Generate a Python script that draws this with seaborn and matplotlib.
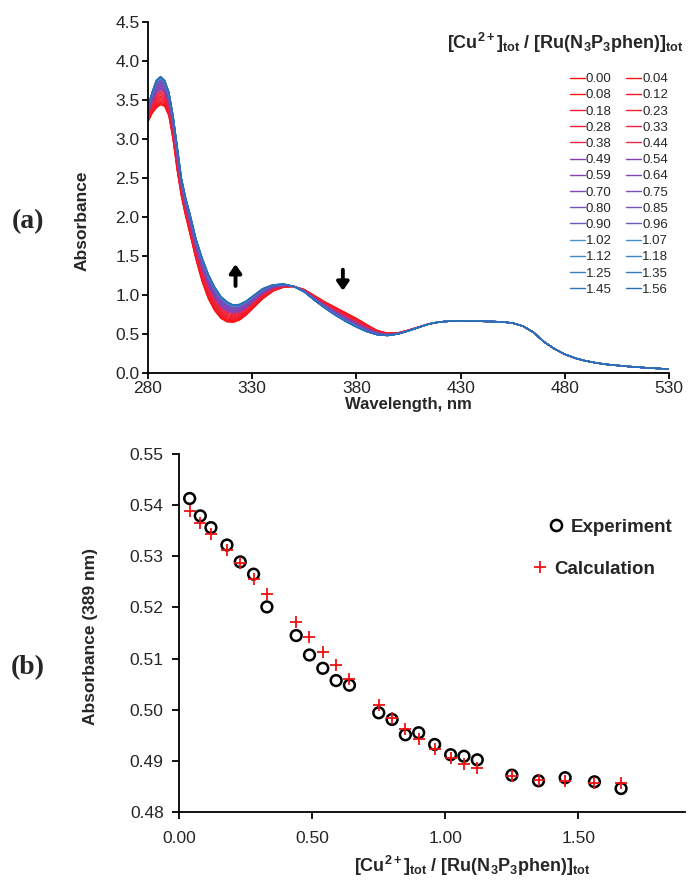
import numpy as np
import pandas as pd
import matplotlib
matplotlib.use("Agg")
import matplotlib.pyplot as plt
from matplotlib.lines import Line2D
from matplotlib.ticker import FormatStrFormatter, MultipleLocator
import seaborn as sns

# ---------------- data ----------------
# titration ratios [Cu2+]tot / [Ru(N3P3phen)]tot (legend of panel a)
ratios = ["0.00", "0.04", "0.08", "0.12", "0.18", "0.23", "0.28", "0.33", "0.38", "0.44",
          "0.49", "0.54", "0.59", "0.64", "0.70", "0.75", "0.80", "0.85", "0.90", "0.96",
          "1.02", "1.07", "1.12", "1.18", "1.25", "1.35", "1.45", "1.56"]
# progression of each spectrum from the initial (0) to the final (1) shape
progress = [0.00, 0.04, 0.09, 0.14, 0.20, 0.26, 0.31, 0.37, 0.43, 0.49,
            0.55, 0.60, 0.65, 0.70, 0.75, 0.79, 0.83, 0.86, 0.89, 0.91,
            0.93, 0.95, 0.96, 0.97, 0.98, 0.99, 0.995, 1.00]

wavelength = [280, 282, 284, 286, 288, 290, 292, 294, 296, 298, 300, 303, 306, 309, 312, 315,
              318, 321, 324, 327, 330, 335, 340, 345, 350, 355, 360, 365, 370, 375, 380, 385,
              390, 395, 400, 405, 410, 415, 420, 425, 430, 435, 440, 445, 450, 455, 460, 465,
              470, 475, 480, 485, 490, 495, 500, 510, 520, 530]
abs_initial = [3.22, 3.33, 3.40, 3.44, 3.42, 3.30, 3.00, 2.60, 2.27, 2.02, 1.80, 1.46, 1.17, 0.95, 0.80, 0.70,
               0.655, 0.65, 0.68, 0.74, 0.82, 0.95, 1.05, 1.10, 1.11, 1.07, 0.99, 0.91, 0.84, 0.77, 0.70, 0.62,
               0.545, 0.51, 0.515, 0.55, 0.59, 0.63, 0.655, 0.665, 0.667, 0.665, 0.663, 0.660, 0.655, 0.640, 0.600, 0.520,
               0.400, 0.310, 0.240, 0.190, 0.155, 0.130, 0.110, 0.085, 0.065, 0.050]
abs_final = [3.42, 3.60, 3.75, 3.80, 3.75, 3.60, 3.30, 2.90, 2.50, 2.25, 2.05, 1.72, 1.47, 1.26, 1.10, 0.98,
             0.91, 0.87, 0.88, 0.92, 0.98, 1.08, 1.13, 1.14, 1.11, 1.04, 0.93, 0.83, 0.74, 0.66, 0.59, 0.53,
             0.49, 0.48, 0.50, 0.54, 0.585, 0.63, 0.655, 0.665, 0.667, 0.665, 0.663, 0.660, 0.655, 0.640, 0.600, 0.520,
             0.400, 0.310, 0.240, 0.190, 0.155, 0.130, 0.110, 0.085, 0.065, 0.050]
wavelength_ticks = [280, 330, 380, 430, 480, 530]

# panel b : absorbance at 389 nm
exp_ratio = [0.04, 0.08, 0.12, 0.18, 0.23, 0.28, 0.33, 0.44, 0.49, 0.54, 0.59, 0.64, 0.75,
             0.80, 0.85, 0.90, 0.96, 1.02, 1.07, 1.12, 1.25, 1.35, 1.45, 1.56, 1.66]
exp_abs = [0.5413, 0.5379, 0.5356, 0.5322, 0.5289, 0.5265, 0.5201, 0.5145, 0.5107, 0.5081, 0.5057, 0.5048, 0.4994,
           0.4981, 0.4951, 0.4955, 0.4932, 0.4912, 0.4909, 0.4902, 0.4872, 0.4861, 0.4867, 0.4859, 0.4846]
calc_abs = [0.5388, 0.5366, 0.5343, 0.5313, 0.5286, 0.5256, 0.5227, 0.5171, 0.5142, 0.5113, 0.5087, 0.5060, 0.5009,
            0.4984, 0.4962, 0.4942, 0.4923, 0.4906, 0.4893, 0.4886, 0.4870, 0.4863, 0.4861, 0.4857, 0.4856]
ratio_ticks = [0.0, 0.5, 1.0, 1.5]

# ---------------- style ----------------
sns.set_style("ticks")
plt.rcParams["font.family"] = ["Liberation Sans", "DejaVu Sans"]
plt.rcParams["mathtext.fontset"] = "custom"
plt.rcParams["mathtext.rm"] = "Liberation Sans"
plt.rcParams["mathtext.bf"] = "Liberation Sans:bold"
plt.rcParams["mathtext.it"] = "Liberation Sans:italic"

def blend(c1, c2, t):
    c1 = np.array(matplotlib.colors.to_rgb(c1)); c2 = np.array(matplotlib.colors.to_rgb(c2))
    return tuple(c1 + (c2 - c1) * t)

colors = []
for i in range(10):
    colors.append(blend("#ff1010", "#e82848", i / 9))
for i in range(10):
    colors.append(blend("#8a3cb0", "#6e58c0", i / 9))
for i in range(8):
    colors.append(blend("#4a94d0", "#2a6eb8", i / 7))
palette = dict(zip(ratios, colors))

rows = []
for r, p in zip(ratios, progress):
    for w, a0, a1 in zip(wavelength, abs_initial, abs_final):
        rows.append((r, w, a0 + (a1 - a0) * p))
df = pd.DataFrame(rows, columns=["ratio", "wavelength", "absorbance"])

W, H = 693, 884
fig = plt.figure(figsize=(W / 100, H / 100), dpi=100)
ax1 = fig.add_axes([148 / W, 1 - 373 / H, 521 / W, 351 / H])
ax2 = fig.add_axes([179 / W, 1 - 812 / H, 506 / W, 358 / H])

# ---------------- panel a ----------------
sns.lineplot(data=df, x="wavelength", y="absorbance", hue="ratio", palette=palette,
             hue_order=ratios, estimator=None, sort=False, linewidth=1.0, legend=False, ax=ax1)
ax1.set_xlim(280, 530)
ax1.set_ylim(0, 4.5)
ax1.set_xticks(wavelength_ticks)
ax1.yaxis.set_major_locator(MultipleLocator(0.5))
ax1.yaxis.set_major_formatter(FormatStrFormatter("%.1f"))
ax1.set_xlabel("Wavelength, nm", fontsize=12, fontweight="bold")
ax1.set_ylabel("Absorbance", fontsize=12.5, fontweight="bold")
ax1.xaxis.set_label_coords(0.5, -0.068)
ax1.yaxis.set_label_coords((90 - 148) / 521, 0.435)
ax1.tick_params(direction="out", length=4, width=1.3, labelsize=12.5, pad=2, color="black")
for s in ["left", "bottom"]:
    ax1.spines[s].set_linewidth(1.3)
    ax1.spines[s].set_color("black")
sns.despine(ax=ax1)

# arrows
ax1.annotate("", xy=(322, 1.43), xytext=(322, 1.08),
             arrowprops=dict(arrowstyle="-|>,head_width=0.35,head_length=0.5", lw=2.8, color="black"))
ax1.annotate("", xy=(373.5, 1.02), xytext=(373.5, 1.36),
             arrowprops=dict(arrowstyle="-|>,head_width=0.35,head_length=0.5", lw=2.8, color="black"))

# legend (row-major order like the original)
handles = [Line2D([], [], color=palette[r], lw=1.0) for r in ratios]
order = list(range(0, 28, 2)) + list(range(1, 28, 2))
leg = ax1.legend([handles[i] for i in order], [ratios[i] for i in order], ncol=2,
                 loc="upper left", bbox_to_anchor=(570 / W, 1 - 73 / H), bbox_transform=fig.transFigure,
                 frameon=False, fontsize=9.5, handlelength=1.1, handletextpad=0.1,
                 labelspacing=0.3, columnspacing=1.1, borderpad=0, borderaxespad=0)
fig.text(447 / W, 1 - 43 / H, r"$\mathbf{[Cu^{2+}]_{tot}\ /\ [Ru(N_3P_3phen)]_{tot}}$",
         fontsize=13, ha="left", va="center")

# ---------------- panel b ----------------
sns.scatterplot(x=exp_ratio, y=exp_abs, marker="o", s=60, facecolor="none",
                edgecolor="black", linewidth=1.8, ax=ax2, zorder=3)
sns.scatterplot(x=exp_ratio, y=calc_abs, marker="+", s=70, color="#ee1111",
                linewidth=1.3, ax=ax2, zorder=4)
ax2.set_xlim(0, 1.9)
ax2.set_ylim(0.48, 0.55)
ax2.set_xticks(ratio_ticks)
ax2.yaxis.set_major_locator(MultipleLocator(0.01))
ax2.xaxis.set_major_formatter(FormatStrFormatter("%.2f"))
ax2.yaxis.set_major_formatter(FormatStrFormatter("%.2f"))
ax2.tick_params(axis="y", direction="out", length=5, width=1.3, labelsize=12.5, pad=6, color="black")
ax2.tick_params(axis="x", direction="out", length=5, width=1.3, labelsize=12.5, pad=9, color="black")
for s in ["left", "bottom"]:
    ax2.spines[s].set_linewidth(1.3)
    ax2.spines[s].set_color("black")
sns.despine(ax=ax2)
ax2.set_ylabel("Absorbance (389 nm)", fontsize=12.5, fontweight="bold")
ax2.yaxis.set_label_coords((98 - 179) / 506, 0.49)
fig.text(472 / W, 1 - 866 / H, r"$\mathbf{[Cu^{2+}]_{tot}\ /\ [Ru(N_3P_3phen)]_{tot}}$",
         fontsize=13, ha="center", va="center")

h_exp = Line2D([], [], marker="o", ls="none", markersize=8, markerfacecolor="none",
               markeredgecolor="black", markeredgewidth=1.8)
h_calc = Line2D([], [], marker="+", ls="none", markersize=9, color="#ee1111", markeredgewidth=1.3)
leg_e = ax2.legend([h_exp], ["Experiment"], loc="center left",
                   bbox_to_anchor=(548 / W, 1 - 527 / H), bbox_transform=fig.transFigure,
                   frameon=False, handlelength=0.8, handletextpad=0.4,
                   borderpad=0, borderaxespad=0, prop={"weight": "bold", "size": 13.5})
ax2.add_artist(leg_e)
ax2.legend([h_calc], ["Calculation"], loc="center left",
           bbox_to_anchor=(532 / W, 1 - 569 / H), bbox_transform=fig.transFigure,
           frameon=False, handlelength=0.8, handletextpad=0.4,
           borderpad=0, borderaxespad=0, prop={"weight": "bold", "size": 13.5})

# panel letters
fig.text(28 / W, 1 - 222 / H, "(a)", fontsize=20, fontweight="bold", family="Liberation Serif",
         ha="center", va="center")
fig.text(28 / W, 1 - 668 / H, "(b)", fontsize=20, fontweight="bold", family="Liberation Serif",
         ha="center", va="center")

fig.savefig("out.png", dpi=100, facecolor="white")
